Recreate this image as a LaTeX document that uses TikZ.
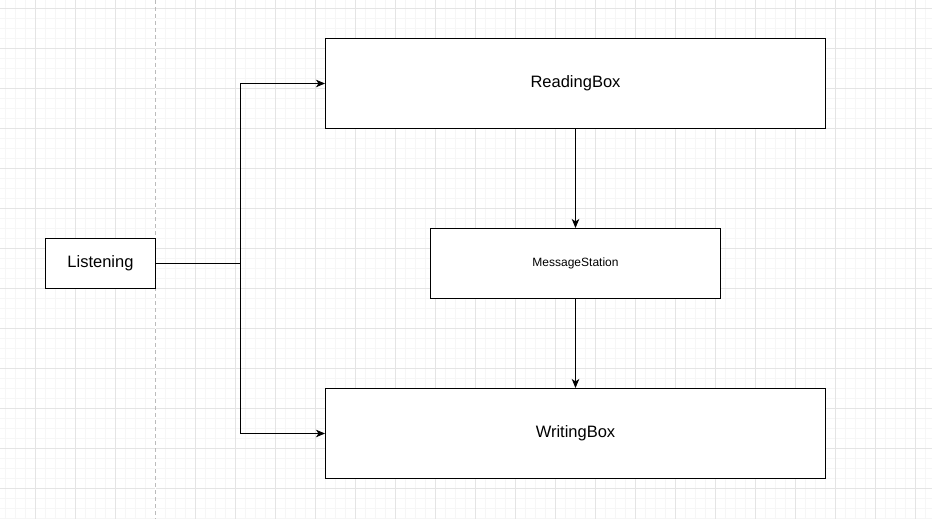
\documentclass[tikz,border=0pt]{standalone}
\usepackage{fontspec}
\setmainfont{Liberation Sans}
\usetikzlibrary{arrows.meta}
\definecolor{minorgrid}{HTML}{F6F6F6}
\definecolor{majorgrid}{HTML}{E4E4E4}
\definecolor{guide}{HTML}{BBBBBB}
\begin{document}
\begin{tikzpicture}[x=1pt,y=-1pt,
  box/.style={draw=black,line width=1pt,fill=white,inner sep=0pt,font=\fontsize{16.5}{18}\selectfont},
  smallbox/.style={box,font=\fontsize{12}{14}\selectfont},
  conn/.style={draw=black,line width=1pt},
  arr/.style={conn,-{Stealth[length=9pt,width=7.5pt,inset=2.5pt]}}]
\useasboundingbox (0,0) rectangle (932,519);
\fill[white] (0,0) rectangle (932,519);
% minor grid
\foreach \x in {5.5,15.5,...,935}{\draw[minorgrid,line width=1pt] (\x,0) -- (\x,519);}
\foreach \y in {-1.5,8.5,...,525}{\draw[minorgrid,line width=1pt] (0,\y) -- (932,\y);}
% major grid
\foreach \x in {35.5,75.5,...,935}{\draw[majorgrid,line width=1pt] (\x,0) -- (\x,519);}
\foreach \y in {8.5,48.5,...,525}{\draw[majorgrid,line width=1pt] (0,\y) -- (932,\y);}
% guide
\draw[white,line width=1pt] (155.5,0) -- (155.5,519);
\draw[guide,line width=1pt,dash pattern=on 4pt off 3pt] (155.5,0) -- (155.5,519);
% nodes
\node[box,minimum width=110pt,minimum height=50pt] (listen) at (100.5,263.5) {Listening};
\node[box,minimum width=500pt,minimum height=90pt] (read) at (575.5,83.5) {ReadingBox};
\node[smallbox,minimum width=290pt,minimum height=70pt] (msg) at (575.5,263.5) {MessageStation};
\node[box,minimum width=500pt,minimum height=90pt] (write) at (575.5,433.5) {WritingBox};
\coordinate (split) at (240.5,263.5);
% connectors
\draw[conn] (listen.east) -- (split);
\draw[arr] (split) |- (read.west);
\draw[arr] (split) |- (write.west);
\draw[arr] (read.south) -- (read.south |- msg.north);
\draw[arr] (msg.south) -- (msg.south |- write.north);
\end{tikzpicture}
\end{document}
